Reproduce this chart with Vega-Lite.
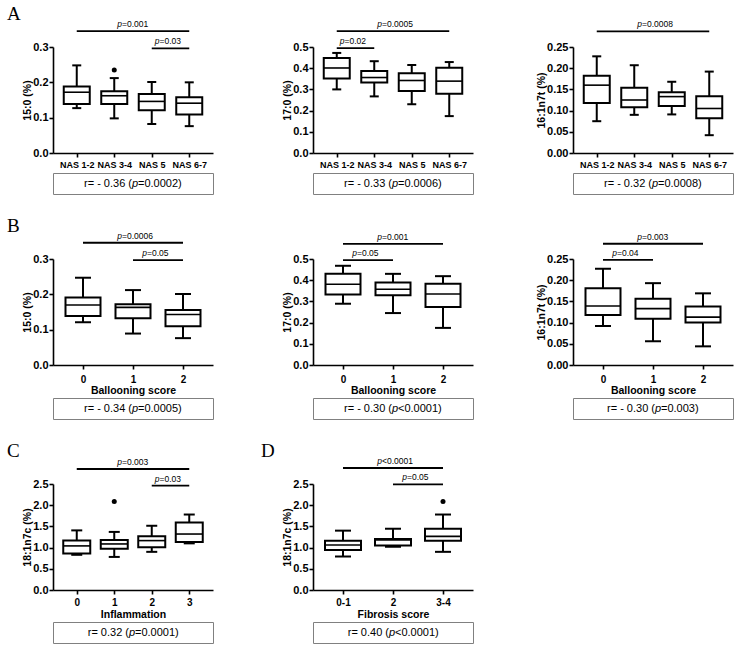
{
"$schema":"https://vega.github.io/schema/vega-lite/v6.json",
"padding":{"left":7,"top":5,"right":0,"bottom":0},
"autosize":{"type":"pad"},
"config":{
 "view":{"stroke":null},
 "font":"Liberation Sans",
 "axis":{"domainColor":"black","domainWidth":1.6,"tickColor":"black","tickWidth":1.6,"tickSize":4,"tickCount":20,"labelColor":"black","labelFont":"Liberation Sans","labelFontWeight":"bold","labelFontSize":11,"titleColor":"black","titleFont":"Liberation Sans","titleFontWeight":"bold","titleFontSize":10.5,"grid":false,"labelPadding":1,"titlePadding":0,"labelOverlap":false,"labelFlush":false,"labelBound":false},
 "title":{"font":"Liberation Serif","fontSize":19,"fontWeight":"normal","anchor":"start","frame":"group","color":"black","baseline":"alphabetic"}
},
"datasets":{
 "boxes":[
  {"panel":"A1","idx":1,"group":"NAS 1-2","min":0.127,"q1":0.139,"median":0.172,"q3":0.188,"max":0.248},
  {"panel":"A1","idx":2,"group":"NAS 3-4","min":0.098,"q1":0.139,"median":0.162,"q3":0.175,"max":0.212},
  {"panel":"A1","idx":3,"group":"NAS 5","min":0.082,"q1":0.121,"median":0.146,"q3":0.167,"max":0.201},
  {"panel":"A1","idx":4,"group":"NAS 6-7","min":0.076,"q1":0.109,"median":0.141,"q3":0.158,"max":0.200},
  {"panel":"A2","idx":1,"group":"NAS 1-2","min":0.300,"q1":0.352,"median":0.401,"q3":0.448,"max":0.472},
  {"panel":"A2","idx":2,"group":"NAS 3-4","min":0.267,"q1":0.333,"median":0.356,"q3":0.387,"max":0.433},
  {"panel":"A2","idx":3,"group":"NAS 5","min":0.230,"q1":0.293,"median":0.342,"q3":0.376,"max":0.415},
  {"panel":"A2","idx":4,"group":"NAS 6-7","min":0.174,"q1":0.280,"median":0.339,"q3":0.402,"max":0.429},
  {"panel":"A3","idx":1,"group":"NAS 1-2","min":0.075,"q1":0.118,"median":0.160,"q3":0.182,"max":0.228},
  {"panel":"A3","idx":2,"group":"NAS 3-4","min":0.090,"q1":0.108,"median":0.125,"q3":0.154,"max":0.207},
  {"panel":"A3","idx":3,"group":"NAS 5","min":0.091,"q1":0.111,"median":0.133,"q3":0.143,"max":0.168},
  {"panel":"A3","idx":4,"group":"NAS 6-7","min":0.042,"q1":0.082,"median":0.105,"q3":0.134,"max":0.192},
  {"panel":"B1","idx":1,"group":"0","min":0.121,"q1":0.139,"median":0.170,"q3":0.191,"max":0.247},
  {"panel":"B1","idx":2,"group":"1","min":0.089,"q1":0.132,"median":0.163,"q3":0.172,"max":0.212},
  {"panel":"B1","idx":3,"group":"2","min":0.076,"q1":0.110,"median":0.143,"q3":0.156,"max":0.201},
  {"panel":"B2","idx":1,"group":"0","min":0.289,"q1":0.332,"median":0.381,"q3":0.430,"max":0.468},
  {"panel":"B2","idx":2,"group":"1","min":0.245,"q1":0.329,"median":0.357,"q3":0.389,"max":0.430},
  {"panel":"B2","idx":3,"group":"2","min":0.175,"q1":0.273,"median":0.335,"q3":0.383,"max":0.419},
  {"panel":"B3","idx":1,"group":"0","min":0.092,"q1":0.118,"median":0.139,"q3":0.181,"max":0.227},
  {"panel":"B3","idx":2,"group":"1","min":0.056,"q1":0.109,"median":0.133,"q3":0.156,"max":0.193},
  {"panel":"B3","idx":3,"group":"2","min":0.044,"q1":0.100,"median":0.113,"q3":0.138,"max":0.169},
  {"panel":"C","idx":1,"group":"0","min":0.83,"q1":0.86,"median":1.04,"q3":1.165,"max":1.406},
  {"panel":"C","idx":2,"group":"1","min":0.78,"q1":0.97,"median":1.086,"q3":1.18,"max":1.37},
  {"panel":"C","idx":3,"group":"2","min":0.90,"q1":1.008,"median":1.165,"q3":1.27,"max":1.515},
  {"panel":"C","idx":4,"group":"3","min":1.10,"q1":1.13,"median":1.32,"q3":1.59,"max":1.78},
  {"panel":"D","idx":1,"group":"0-1","min":0.79,"q1":0.945,"median":1.06,"q3":1.16,"max":1.40},
  {"panel":"D","idx":2,"group":"2","min":1.02,"q1":1.05,"median":1.18,"q3":1.20,"max":1.445},
  {"panel":"D","idx":3,"group":"3-4","min":0.90,"q1":1.16,"median":1.265,"q3":1.445,"max":1.78}
 ],
 "outliers":[
  {"panel":"A1","idx":2,"value":0.235},
  {"panel":"C","idx":2,"value":2.09},
  {"panel":"D","idx":3,"value":2.09}
 ],
 "sig":[
  {"panel":"A1","from":1,"to":4,"mid":2.5,"y":0.345,"t":"=0.001"},
  {"panel":"A1","from":3,"to":4,"mid":3.5,"y":0.296,"t":"=0.03"},
  {"panel":"A2","from":1,"to":4,"mid":2.5,"y":0.575,"t":"=0.0005"},
  {"panel":"A2","from":1,"to":2,"mid":1.5,"y":0.495,"t":"=0.02"},
  {"panel":"A3","from":1,"to":4,"mid":2.5,"y":0.287,"t":"=0.0008"},
  {"panel":"B1","from":1,"to":3,"mid":2,"y":0.346,"t":"=0.0006"},
  {"panel":"B1","from":2,"to":3,"mid":2.5,"y":0.297,"t":"=0.05"},
  {"panel":"B2","from":1,"to":3,"mid":2,"y":0.571,"t":"=0.001"},
  {"panel":"B2","from":1,"to":2,"mid":1.5,"y":0.495,"t":"=0.05"},
  {"panel":"B3","from":1,"to":3,"mid":2,"y":0.286,"t":"=0.003"},
  {"panel":"B3","from":1,"to":2,"mid":1.5,"y":0.248,"t":"=0.04"},
  {"panel":"C","from":1,"to":4,"mid":2.5,"y":2.854,"t":"=0.003"},
  {"panel":"C","from":3,"to":4,"mid":3.5,"y":2.46,"t":"=0.03"},
  {"panel":"D","from":1,"to":3,"mid":2,"y":2.877,"t":"<0.0001"},
  {"panel":"D","from":2,"to":3,"mid":2.5,"y":2.49,"t":"=0.05"}
 ]
},
"vconcat":[
 {"vconcat":[
  {"hconcat":[
   {"title":{"text":"A","dx":-46,"offset":-4},"width":160,"height":106,"layer":[
    {"data":{"name":"boxes"},"transform":[{"filter":"datum.panel=='A1'"}],"mark":{"type":"rule","color":"black","strokeWidth":2},"encoding":{"x":{"field":"idx","type":"quantitative","scale":{"domain":[0.5,4.5],"nice":false,"zero":false},"axis":{"values":[1,2,3,4],"tickCount":20,"labelExpr":"['NAS 1-2','NAS 3-4','NAS 5','NAS 6-7'][datum.value-1]","title":null,"labelFontSize":9,"labelPadding":3}},"y":{"field":"min","type":"quantitative","scale":{"domain":[0,0.3],"nice":false},"axis":{"values":[0,0.1,0.2,0.3],"tickCount":20,"format":".1f","title":"15:0 (%)"}},"y2":{"field":"max"}}},
    {"data":{"name":"boxes"},"transform":[{"filter":"datum.panel=='A1'"}],"mark":{"type":"bar","fill":"white","stroke":"black","strokeWidth":2,"size":26},"encoding":{"x":{"field":"idx","type":"quantitative","scale":{"domain":[0.5,4.5],"nice":false,"zero":false}},"y":{"field":"q1","type":"quantitative","scale":{"domain":[0,0.3],"nice":false}},"y2":{"field":"q3"}}},
    {"data":{"name":"boxes"},"transform":[{"filter":"datum.panel=='A1'"}],"mark":{"type":"tick","orient":"horizontal","color":"black","opacity":1,"size":26,"thickness":1.6},"encoding":{"x":{"field":"idx","type":"quantitative","scale":{"domain":[0.5,4.5],"nice":false,"zero":false}},"y":{"field":"median","type":"quantitative","scale":{"domain":[0,0.3],"nice":false}}}},
    {"data":{"name":"boxes"},"transform":[{"filter":"datum.panel=='A1'"},{"fold":["min","max"],"as":["k","v"]}],"mark":{"type":"tick","orient":"horizontal","color":"black","opacity":1,"size":9,"thickness":2},"encoding":{"x":{"field":"idx","type":"quantitative","scale":{"domain":[0.5,4.5],"nice":false,"zero":false}},"y":{"field":"v","type":"quantitative","scale":{"domain":[0,0.3],"nice":false}}}},
    {"data":{"name":"outliers"},"transform":[{"filter":"datum.panel=='A1'"}],"mark":{"type":"point","filled":true,"color":"black","opacity":1,"size":25},"encoding":{"x":{"field":"idx","type":"quantitative","scale":{"domain":[0.5,4.5],"nice":false,"zero":false}},"y":{"field":"value","type":"quantitative","scale":{"domain":[0,0.3],"nice":false}}}},
    {"data":{"name":"sig"},"transform":[{"filter":"datum.panel=='A1'"}],"mark":{"type":"rule","color":"black","strokeWidth":1.8},"encoding":{"x":{"field":"from","type":"quantitative","scale":{"domain":[0.5,4.5],"nice":false,"zero":false}},"x2":{"field":"to"},"y":{"field":"y","type":"quantitative","scale":{"domain":[0,0.3],"nice":false}}}},
    {"data":{"name":"sig"},"transform":[{"filter":"datum.panel=='A1'"}],"mark":{"type":"text","text":"p","fontStyle":"italic","fontSize":8.5,"align":"right","baseline":"alphabetic","dx":-11,"dy":-4,"color":"black"},"encoding":{"x":{"field":"mid","type":"quantitative","scale":{"domain":[0.5,4.5],"nice":false,"zero":false}},"y":{"field":"y","type":"quantitative","scale":{"domain":[0,0.3],"nice":false}}}},
    {"data":{"name":"sig"},"transform":[{"filter":"datum.panel=='A1'"}],"mark":{"type":"text","fontSize":8.5,"align":"left","baseline":"alphabetic","dx":-11,"dy":-4,"color":"black"},"encoding":{"x":{"field":"mid","type":"quantitative","scale":{"domain":[0.5,4.5],"nice":false,"zero":false}},"y":{"field":"y","type":"quantitative","scale":{"domain":[0,0.3],"nice":false}},"text":{"field":"t"}}}
   ]},
   {"width":160,"height":106,"layer":[
    {"data":{"name":"boxes"},"transform":[{"filter":"datum.panel=='A2'"}],"mark":{"type":"rule","color":"black","strokeWidth":2},"encoding":{"x":{"field":"idx","type":"quantitative","scale":{"domain":[0.5,4.5],"nice":false,"zero":false},"axis":{"values":[1,2,3,4],"tickCount":20,"labelExpr":"['NAS 1-2','NAS 3-4','NAS 5','NAS 6-7'][datum.value-1]","title":null,"labelFontSize":9,"labelPadding":3}},"y":{"field":"min","type":"quantitative","scale":{"domain":[0,0.5],"nice":false},"axis":{"values":[0,0.1,0.2,0.3,0.4,0.5],"tickCount":20,"format":".1f","title":"17:0 (%)"}},"y2":{"field":"max"}}},
    {"data":{"name":"boxes"},"transform":[{"filter":"datum.panel=='A2'"}],"mark":{"type":"bar","fill":"white","stroke":"black","strokeWidth":2,"size":26},"encoding":{"x":{"field":"idx","type":"quantitative","scale":{"domain":[0.5,4.5],"nice":false,"zero":false}},"y":{"field":"q1","type":"quantitative","scale":{"domain":[0,0.5],"nice":false}},"y2":{"field":"q3"}}},
    {"data":{"name":"boxes"},"transform":[{"filter":"datum.panel=='A2'"}],"mark":{"type":"tick","orient":"horizontal","color":"black","opacity":1,"size":26,"thickness":1.6},"encoding":{"x":{"field":"idx","type":"quantitative","scale":{"domain":[0.5,4.5],"nice":false,"zero":false}},"y":{"field":"median","type":"quantitative","scale":{"domain":[0,0.5],"nice":false}}}},
    {"data":{"name":"boxes"},"transform":[{"filter":"datum.panel=='A2'"},{"fold":["min","max"],"as":["k","v"]}],"mark":{"type":"tick","orient":"horizontal","color":"black","opacity":1,"size":9,"thickness":2},"encoding":{"x":{"field":"idx","type":"quantitative","scale":{"domain":[0.5,4.5],"nice":false,"zero":false}},"y":{"field":"v","type":"quantitative","scale":{"domain":[0,0.5],"nice":false}}}},
    {"data":{"name":"sig"},"transform":[{"filter":"datum.panel=='A2'"}],"mark":{"type":"rule","color":"black","strokeWidth":1.8},"encoding":{"x":{"field":"from","type":"quantitative","scale":{"domain":[0.5,4.5],"nice":false,"zero":false}},"x2":{"field":"to"},"y":{"field":"y","type":"quantitative","scale":{"domain":[0,0.5],"nice":false}}}},
    {"data":{"name":"sig"},"transform":[{"filter":"datum.panel=='A2'"}],"mark":{"type":"text","text":"p","fontStyle":"italic","fontSize":8.5,"align":"right","baseline":"alphabetic","dx":-11,"dy":-4,"color":"black"},"encoding":{"x":{"field":"mid","type":"quantitative","scale":{"domain":[0.5,4.5],"nice":false,"zero":false}},"y":{"field":"y","type":"quantitative","scale":{"domain":[0,0.5],"nice":false}}}},
    {"data":{"name":"sig"},"transform":[{"filter":"datum.panel=='A2'"}],"mark":{"type":"text","fontSize":8.5,"align":"left","baseline":"alphabetic","dx":-11,"dy":-4,"color":"black"},"encoding":{"x":{"field":"mid","type":"quantitative","scale":{"domain":[0.5,4.5],"nice":false,"zero":false}},"y":{"field":"y","type":"quantitative","scale":{"domain":[0,0.5],"nice":false}},"text":{"field":"t"}}}
   ]},
   {"width":160,"height":106,"layer":[
    {"data":{"name":"boxes"},"transform":[{"filter":"datum.panel=='A3'"}],"mark":{"type":"rule","color":"black","strokeWidth":2},"encoding":{"x":{"field":"idx","type":"quantitative","scale":{"domain":[0.5,4.5],"nice":false,"zero":false},"axis":{"values":[1,2,3,4],"tickCount":20,"labelExpr":"['NAS 1-2','NAS 3-4','NAS 5','NAS 6-7'][datum.value-1]","title":null,"labelFontSize":9,"labelPadding":3}},"y":{"field":"min","type":"quantitative","scale":{"domain":[0,0.25],"nice":false},"axis":{"values":[0,0.05,0.1,0.15,0.2,0.25],"tickCount":20,"format":".2f","title":"16:1n7t (%)"}},"y2":{"field":"max"}}},
    {"data":{"name":"boxes"},"transform":[{"filter":"datum.panel=='A3'"}],"mark":{"type":"bar","fill":"white","stroke":"black","strokeWidth":2,"size":26},"encoding":{"x":{"field":"idx","type":"quantitative","scale":{"domain":[0.5,4.5],"nice":false,"zero":false}},"y":{"field":"q1","type":"quantitative","scale":{"domain":[0,0.25],"nice":false}},"y2":{"field":"q3"}}},
    {"data":{"name":"boxes"},"transform":[{"filter":"datum.panel=='A3'"}],"mark":{"type":"tick","orient":"horizontal","color":"black","opacity":1,"size":26,"thickness":1.6},"encoding":{"x":{"field":"idx","type":"quantitative","scale":{"domain":[0.5,4.5],"nice":false,"zero":false}},"y":{"field":"median","type":"quantitative","scale":{"domain":[0,0.25],"nice":false}}}},
    {"data":{"name":"boxes"},"transform":[{"filter":"datum.panel=='A3'"},{"fold":["min","max"],"as":["k","v"]}],"mark":{"type":"tick","orient":"horizontal","color":"black","opacity":1,"size":9,"thickness":2},"encoding":{"x":{"field":"idx","type":"quantitative","scale":{"domain":[0.5,4.5],"nice":false,"zero":false}},"y":{"field":"v","type":"quantitative","scale":{"domain":[0,0.25],"nice":false}}}},
    {"data":{"name":"sig"},"transform":[{"filter":"datum.panel=='A3'"}],"mark":{"type":"rule","color":"black","strokeWidth":1.8},"encoding":{"x":{"field":"from","type":"quantitative","scale":{"domain":[0.5,4.5],"nice":false,"zero":false}},"x2":{"field":"to"},"y":{"field":"y","type":"quantitative","scale":{"domain":[0,0.25],"nice":false}}}},
    {"data":{"name":"sig"},"transform":[{"filter":"datum.panel=='A3'"}],"mark":{"type":"text","text":"p","fontStyle":"italic","fontSize":8.5,"align":"right","baseline":"alphabetic","dx":-11,"dy":-4,"color":"black"},"encoding":{"x":{"field":"mid","type":"quantitative","scale":{"domain":[0.5,4.5],"nice":false,"zero":false}},"y":{"field":"y","type":"quantitative","scale":{"domain":[0,0.25],"nice":false}}}},
    {"data":{"name":"sig"},"transform":[{"filter":"datum.panel=='A3'"}],"mark":{"type":"text","fontSize":8.5,"align":"left","baseline":"alphabetic","dx":-11,"dy":-4,"color":"black"},"encoding":{"x":{"field":"mid","type":"quantitative","scale":{"domain":[0.5,4.5],"nice":false,"zero":false}},"y":{"field":"y","type":"quantitative","scale":{"domain":[0,0.25],"nice":false}},"text":{"field":"t"}}}
   ]}
  ],"spacing":100,"bounds":"flush"},
  {"hconcat":[
   {"width":160,"height":21,"view":{"stroke":"#808080","strokeWidth":1},"data":{"values":[{"a":"r= - 0.36 (","b":"=0.0002)"}]},"layer":[
    {"mark":{"type":"text","align":"right","dx":-1,"fontSize":11,"color":"black"},"encoding":{"text":{"field":"a"}}},
    {"mark":{"type":"text","align":"left","dx":-1,"fontSize":11,"fontStyle":"italic","color":"black","text":"p"},"encoding":{}},
    {"mark":{"type":"text","align":"left","dx":5,"fontSize":11,"color":"black"},"encoding":{"text":{"field":"b"}}}
   ]},
   {"width":160,"height":21,"view":{"stroke":"#808080","strokeWidth":1},"data":{"values":[{"a":"r= - 0.33 (","b":"=0.0006)"}]},"layer":[
    {"mark":{"type":"text","align":"right","dx":-1,"fontSize":11,"color":"black"},"encoding":{"text":{"field":"a"}}},
    {"mark":{"type":"text","align":"left","dx":-1,"fontSize":11,"fontStyle":"italic","color":"black","text":"p"},"encoding":{}},
    {"mark":{"type":"text","align":"left","dx":5,"fontSize":11,"color":"black"},"encoding":{"text":{"field":"b"}}}
   ]},
   {"width":160,"height":21,"view":{"stroke":"#808080","strokeWidth":1},"data":{"values":[{"a":"r= - 0.32 (","b":"=0.0008)"}]},"layer":[
    {"mark":{"type":"text","align":"right","dx":-1,"fontSize":11,"color":"black"},"encoding":{"text":{"field":"a"}}},
    {"mark":{"type":"text","align":"left","dx":-1,"fontSize":11,"fontStyle":"italic","color":"black","text":"p"},"encoding":{}},
    {"mark":{"type":"text","align":"left","dx":5,"fontSize":11,"color":"black"},"encoding":{"text":{"field":"b"}}}
   ]}
  ],"spacing":100,"bounds":"flush"}
 ],"spacing":126,"bounds":"flush"},
 {"vconcat":[
  {"hconcat":[
   {"title":{"text":"B","dx":-46,"offset":-4},"width":160,"height":106,"layer":[
    {"data":{"name":"boxes"},"transform":[{"filter":"datum.panel=='B1'"}],"mark":{"type":"rule","color":"black","strokeWidth":2},"encoding":{"x":{"field":"idx","type":"quantitative","scale":{"domain":[0.5,3.5],"nice":false,"zero":false},"axis":{"values":[1,2,3],"tickCount":20,"labelExpr":"['0','1','2'][datum.value-1]","title":"Ballooning score","labelFontSize":10,"labelPadding":5,"titlePadding":1}},"y":{"field":"min","type":"quantitative","scale":{"domain":[0,0.3],"nice":false},"axis":{"values":[0,0.1,0.2,0.3],"tickCount":20,"format":".1f","title":"15:0 (%)"}},"y2":{"field":"max"}}},
    {"data":{"name":"boxes"},"transform":[{"filter":"datum.panel=='B1'"}],"mark":{"type":"bar","fill":"white","stroke":"black","strokeWidth":2,"size":35},"encoding":{"x":{"field":"idx","type":"quantitative","scale":{"domain":[0.5,3.5],"nice":false,"zero":false}},"y":{"field":"q1","type":"quantitative","scale":{"domain":[0,0.3],"nice":false}},"y2":{"field":"q3"}}},
    {"data":{"name":"boxes"},"transform":[{"filter":"datum.panel=='B1'"}],"mark":{"type":"tick","orient":"horizontal","color":"black","opacity":1,"size":35,"thickness":1.6},"encoding":{"x":{"field":"idx","type":"quantitative","scale":{"domain":[0.5,3.5],"nice":false,"zero":false}},"y":{"field":"median","type":"quantitative","scale":{"domain":[0,0.3],"nice":false}}}},
    {"data":{"name":"boxes"},"transform":[{"filter":"datum.panel=='B1'"},{"fold":["min","max"],"as":["k","v"]}],"mark":{"type":"tick","orient":"horizontal","color":"black","opacity":1,"size":16,"thickness":2},"encoding":{"x":{"field":"idx","type":"quantitative","scale":{"domain":[0.5,3.5],"nice":false,"zero":false}},"y":{"field":"v","type":"quantitative","scale":{"domain":[0,0.3],"nice":false}}}},
    {"data":{"name":"sig"},"transform":[{"filter":"datum.panel=='B1'"}],"mark":{"type":"rule","color":"black","strokeWidth":1.8},"encoding":{"x":{"field":"from","type":"quantitative","scale":{"domain":[0.5,3.5],"nice":false,"zero":false}},"x2":{"field":"to"},"y":{"field":"y","type":"quantitative","scale":{"domain":[0,0.3],"nice":false}}}},
    {"data":{"name":"sig"},"transform":[{"filter":"datum.panel=='B1'"}],"mark":{"type":"text","text":"p","fontStyle":"italic","fontSize":8.5,"align":"right","baseline":"alphabetic","dx":-11,"dy":-4,"color":"black"},"encoding":{"x":{"field":"mid","type":"quantitative","scale":{"domain":[0.5,3.5],"nice":false,"zero":false}},"y":{"field":"y","type":"quantitative","scale":{"domain":[0,0.3],"nice":false}}}},
    {"data":{"name":"sig"},"transform":[{"filter":"datum.panel=='B1'"}],"mark":{"type":"text","fontSize":8.5,"align":"left","baseline":"alphabetic","dx":-11,"dy":-4,"color":"black"},"encoding":{"x":{"field":"mid","type":"quantitative","scale":{"domain":[0.5,3.5],"nice":false,"zero":false}},"y":{"field":"y","type":"quantitative","scale":{"domain":[0,0.3],"nice":false}},"text":{"field":"t"}}}
   ]},
   {"width":160,"height":106,"layer":[
    {"data":{"name":"boxes"},"transform":[{"filter":"datum.panel=='B2'"}],"mark":{"type":"rule","color":"black","strokeWidth":2},"encoding":{"x":{"field":"idx","type":"quantitative","scale":{"domain":[0.5,3.5],"nice":false,"zero":false},"axis":{"values":[1,2,3],"tickCount":20,"labelExpr":"['0','1','2'][datum.value-1]","title":"Ballooning score","labelFontSize":10,"labelPadding":5,"titlePadding":1}},"y":{"field":"min","type":"quantitative","scale":{"domain":[0,0.5],"nice":false},"axis":{"values":[0,0.1,0.2,0.3,0.4,0.5],"tickCount":20,"format":".1f","title":"17:0 (%)"}},"y2":{"field":"max"}}},
    {"data":{"name":"boxes"},"transform":[{"filter":"datum.panel=='B2'"}],"mark":{"type":"bar","fill":"white","stroke":"black","strokeWidth":2,"size":35},"encoding":{"x":{"field":"idx","type":"quantitative","scale":{"domain":[0.5,3.5],"nice":false,"zero":false}},"y":{"field":"q1","type":"quantitative","scale":{"domain":[0,0.5],"nice":false}},"y2":{"field":"q3"}}},
    {"data":{"name":"boxes"},"transform":[{"filter":"datum.panel=='B2'"}],"mark":{"type":"tick","orient":"horizontal","color":"black","opacity":1,"size":35,"thickness":1.6},"encoding":{"x":{"field":"idx","type":"quantitative","scale":{"domain":[0.5,3.5],"nice":false,"zero":false}},"y":{"field":"median","type":"quantitative","scale":{"domain":[0,0.5],"nice":false}}}},
    {"data":{"name":"boxes"},"transform":[{"filter":"datum.panel=='B2'"},{"fold":["min","max"],"as":["k","v"]}],"mark":{"type":"tick","orient":"horizontal","color":"black","opacity":1,"size":16,"thickness":2},"encoding":{"x":{"field":"idx","type":"quantitative","scale":{"domain":[0.5,3.5],"nice":false,"zero":false}},"y":{"field":"v","type":"quantitative","scale":{"domain":[0,0.5],"nice":false}}}},
    {"data":{"name":"sig"},"transform":[{"filter":"datum.panel=='B2'"}],"mark":{"type":"rule","color":"black","strokeWidth":1.8},"encoding":{"x":{"field":"from","type":"quantitative","scale":{"domain":[0.5,3.5],"nice":false,"zero":false}},"x2":{"field":"to"},"y":{"field":"y","type":"quantitative","scale":{"domain":[0,0.5],"nice":false}}}},
    {"data":{"name":"sig"},"transform":[{"filter":"datum.panel=='B2'"}],"mark":{"type":"text","text":"p","fontStyle":"italic","fontSize":8.5,"align":"right","baseline":"alphabetic","dx":-11,"dy":-4,"color":"black"},"encoding":{"x":{"field":"mid","type":"quantitative","scale":{"domain":[0.5,3.5],"nice":false,"zero":false}},"y":{"field":"y","type":"quantitative","scale":{"domain":[0,0.5],"nice":false}}}},
    {"data":{"name":"sig"},"transform":[{"filter":"datum.panel=='B2'"}],"mark":{"type":"text","fontSize":8.5,"align":"left","baseline":"alphabetic","dx":-11,"dy":-4,"color":"black"},"encoding":{"x":{"field":"mid","type":"quantitative","scale":{"domain":[0.5,3.5],"nice":false,"zero":false}},"y":{"field":"y","type":"quantitative","scale":{"domain":[0,0.5],"nice":false}},"text":{"field":"t"}}}
   ]},
   {"width":160,"height":106,"layer":[
    {"data":{"name":"boxes"},"transform":[{"filter":"datum.panel=='B3'"}],"mark":{"type":"rule","color":"black","strokeWidth":2},"encoding":{"x":{"field":"idx","type":"quantitative","scale":{"domain":[0.5,3.5],"nice":false,"zero":false},"axis":{"values":[1,2,3],"tickCount":20,"labelExpr":"['0','1','2'][datum.value-1]","title":"Ballooning score","labelFontSize":10,"labelPadding":5,"titlePadding":1}},"y":{"field":"min","type":"quantitative","scale":{"domain":[0,0.25],"nice":false},"axis":{"values":[0,0.05,0.1,0.15,0.2,0.25],"tickCount":20,"format":".2f","title":"16:1n7t (%)"}},"y2":{"field":"max"}}},
    {"data":{"name":"boxes"},"transform":[{"filter":"datum.panel=='B3'"}],"mark":{"type":"bar","fill":"white","stroke":"black","strokeWidth":2,"size":35},"encoding":{"x":{"field":"idx","type":"quantitative","scale":{"domain":[0.5,3.5],"nice":false,"zero":false}},"y":{"field":"q1","type":"quantitative","scale":{"domain":[0,0.25],"nice":false}},"y2":{"field":"q3"}}},
    {"data":{"name":"boxes"},"transform":[{"filter":"datum.panel=='B3'"}],"mark":{"type":"tick","orient":"horizontal","color":"black","opacity":1,"size":35,"thickness":1.6},"encoding":{"x":{"field":"idx","type":"quantitative","scale":{"domain":[0.5,3.5],"nice":false,"zero":false}},"y":{"field":"median","type":"quantitative","scale":{"domain":[0,0.25],"nice":false}}}},
    {"data":{"name":"boxes"},"transform":[{"filter":"datum.panel=='B3'"},{"fold":["min","max"],"as":["k","v"]}],"mark":{"type":"tick","orient":"horizontal","color":"black","opacity":1,"size":16,"thickness":2},"encoding":{"x":{"field":"idx","type":"quantitative","scale":{"domain":[0.5,3.5],"nice":false,"zero":false}},"y":{"field":"v","type":"quantitative","scale":{"domain":[0,0.25],"nice":false}}}},
    {"data":{"name":"sig"},"transform":[{"filter":"datum.panel=='B3'"}],"mark":{"type":"rule","color":"black","strokeWidth":1.8},"encoding":{"x":{"field":"from","type":"quantitative","scale":{"domain":[0.5,3.5],"nice":false,"zero":false}},"x2":{"field":"to"},"y":{"field":"y","type":"quantitative","scale":{"domain":[0,0.25],"nice":false}}}},
    {"data":{"name":"sig"},"transform":[{"filter":"datum.panel=='B3'"}],"mark":{"type":"text","text":"p","fontStyle":"italic","fontSize":8.5,"align":"right","baseline":"alphabetic","dx":-11,"dy":-4,"color":"black"},"encoding":{"x":{"field":"mid","type":"quantitative","scale":{"domain":[0.5,3.5],"nice":false,"zero":false}},"y":{"field":"y","type":"quantitative","scale":{"domain":[0,0.25],"nice":false}}}},
    {"data":{"name":"sig"},"transform":[{"filter":"datum.panel=='B3'"}],"mark":{"type":"text","fontSize":8.5,"align":"left","baseline":"alphabetic","dx":-11,"dy":-4,"color":"black"},"encoding":{"x":{"field":"mid","type":"quantitative","scale":{"domain":[0.5,3.5],"nice":false,"zero":false}},"y":{"field":"y","type":"quantitative","scale":{"domain":[0,0.25],"nice":false}},"text":{"field":"t"}}}
   ]}
  ],"spacing":100,"bounds":"flush"},
  {"hconcat":[
   {"width":160,"height":21,"view":{"stroke":"#808080","strokeWidth":1},"data":{"values":[{"a":"r= - 0.34 (","b":"=0.0005)"}]},"layer":[
    {"mark":{"type":"text","align":"right","dx":-1,"fontSize":11,"color":"black"},"encoding":{"text":{"field":"a"}}},
    {"mark":{"type":"text","align":"left","dx":-1,"fontSize":11,"fontStyle":"italic","color":"black","text":"p"},"encoding":{}},
    {"mark":{"type":"text","align":"left","dx":5,"fontSize":11,"color":"black"},"encoding":{"text":{"field":"b"}}}
   ]},
   {"width":160,"height":21,"view":{"stroke":"#808080","strokeWidth":1},"data":{"values":[{"a":"r= - 0.30 (","b":"<0.0001)"}]},"layer":[
    {"mark":{"type":"text","align":"right","dx":-1,"fontSize":11,"color":"black"},"encoding":{"text":{"field":"a"}}},
    {"mark":{"type":"text","align":"left","dx":-1,"fontSize":11,"fontStyle":"italic","color":"black","text":"p"},"encoding":{}},
    {"mark":{"type":"text","align":"left","dx":5,"fontSize":11,"color":"black"},"encoding":{"text":{"field":"b"}}}
   ]},
   {"width":160,"height":21,"view":{"stroke":"#808080","strokeWidth":1},"data":{"values":[{"a":"r= - 0.30 (","b":"=0.003)"}]},"layer":[
    {"mark":{"type":"text","align":"right","dx":2,"fontSize":11,"color":"black"},"encoding":{"text":{"field":"a"}}},
    {"mark":{"type":"text","align":"left","dx":2,"fontSize":11,"fontStyle":"italic","color":"black","text":"p"},"encoding":{}},
    {"mark":{"type":"text","align":"left","dx":8,"fontSize":11,"color":"black"},"encoding":{"text":{"field":"b"}}}
   ]}
  ],"spacing":100,"bounds":"flush"}
 ],"spacing":139,"bounds":"flush"},
 {"vconcat":[
  {"hconcat":[
   {"title":{"text":"C","dx":-46,"offset":-3},"width":160,"height":106,"layer":[
    {"data":{"name":"boxes"},"transform":[{"filter":"datum.panel=='C'"}],"mark":{"type":"rule","color":"black","strokeWidth":2},"encoding":{"x":{"field":"idx","type":"quantitative","scale":{"domain":[0.5,4.5],"nice":false,"zero":false},"axis":{"values":[1,2,3,4],"tickCount":20,"labelExpr":"['0','1','2','3'][datum.value-1]","title":"Inflammation","labelFontSize":10,"labelPadding":3,"titlePadding":2}},"y":{"field":"min","type":"quantitative","scale":{"domain":[0,2.5],"nice":false},"axis":{"values":[0,0.5,1,1.5,2,2.5],"tickCount":20,"format":".1f","title":"18:1n7c (%)"}},"y2":{"field":"max"}}},
    {"data":{"name":"boxes"},"transform":[{"filter":"datum.panel=='C'"}],"mark":{"type":"bar","fill":"white","stroke":"black","strokeWidth":2,"size":27},"encoding":{"x":{"field":"idx","type":"quantitative","scale":{"domain":[0.5,4.5],"nice":false,"zero":false}},"y":{"field":"q1","type":"quantitative","scale":{"domain":[0,2.5],"nice":false}},"y2":{"field":"q3"}}},
    {"data":{"name":"boxes"},"transform":[{"filter":"datum.panel=='C'"}],"mark":{"type":"tick","orient":"horizontal","color":"black","opacity":1,"size":27,"thickness":1.6},"encoding":{"x":{"field":"idx","type":"quantitative","scale":{"domain":[0.5,4.5],"nice":false,"zero":false}},"y":{"field":"median","type":"quantitative","scale":{"domain":[0,2.5],"nice":false}}}},
    {"data":{"name":"boxes"},"transform":[{"filter":"datum.panel=='C'"},{"fold":["min","max"],"as":["k","v"]}],"mark":{"type":"tick","orient":"horizontal","color":"black","opacity":1,"size":11,"thickness":2},"encoding":{"x":{"field":"idx","type":"quantitative","scale":{"domain":[0.5,4.5],"nice":false,"zero":false}},"y":{"field":"v","type":"quantitative","scale":{"domain":[0,2.5],"nice":false}}}},
    {"data":{"name":"outliers"},"transform":[{"filter":"datum.panel=='C'"}],"mark":{"type":"point","filled":true,"color":"black","opacity":1,"size":25},"encoding":{"x":{"field":"idx","type":"quantitative","scale":{"domain":[0.5,4.5],"nice":false,"zero":false}},"y":{"field":"value","type":"quantitative","scale":{"domain":[0,2.5],"nice":false}}}},
    {"data":{"name":"sig"},"transform":[{"filter":"datum.panel=='C'"}],"mark":{"type":"rule","color":"black","strokeWidth":1.8},"encoding":{"x":{"field":"from","type":"quantitative","scale":{"domain":[0.5,4.5],"nice":false,"zero":false}},"x2":{"field":"to"},"y":{"field":"y","type":"quantitative","scale":{"domain":[0,2.5],"nice":false}}}},
    {"data":{"name":"sig"},"transform":[{"filter":"datum.panel=='C'"}],"mark":{"type":"text","text":"p","fontStyle":"italic","fontSize":8.5,"align":"right","baseline":"alphabetic","dx":-11,"dy":-4,"color":"black"},"encoding":{"x":{"field":"mid","type":"quantitative","scale":{"domain":[0.5,4.5],"nice":false,"zero":false}},"y":{"field":"y","type":"quantitative","scale":{"domain":[0,2.5],"nice":false}}}},
    {"data":{"name":"sig"},"transform":[{"filter":"datum.panel=='C'"}],"mark":{"type":"text","fontSize":8.5,"align":"left","baseline":"alphabetic","dx":-11,"dy":-4,"color":"black"},"encoding":{"x":{"field":"mid","type":"quantitative","scale":{"domain":[0.5,4.5],"nice":false,"zero":false}},"y":{"field":"y","type":"quantitative","scale":{"domain":[0,2.5],"nice":false}},"text":{"field":"t"}}}
   ]},
   {"title":{"text":"D","dx":-52,"offset":-4},"width":160,"height":106,"layer":[
    {"data":{"name":"boxes"},"transform":[{"filter":"datum.panel=='D'"}],"mark":{"type":"rule","color":"black","strokeWidth":2},"encoding":{"x":{"field":"idx","type":"quantitative","scale":{"domain":[0.5,3.5],"nice":false,"zero":false},"axis":{"values":[1,2,3],"tickCount":20,"labelExpr":"['0-1','2','3-4'][datum.value-1]","title":"Fibrosis score","labelFontSize":10,"labelPadding":3,"titlePadding":2}},"y":{"field":"min","type":"quantitative","scale":{"domain":[0,2.5],"nice":false},"axis":{"values":[0,0.5,1,1.5,2,2.5],"tickCount":20,"format":".1f","title":"18:1n7c (%)"}},"y2":{"field":"max"}}},
    {"data":{"name":"boxes"},"transform":[{"filter":"datum.panel=='D'"}],"mark":{"type":"bar","fill":"white","stroke":"black","strokeWidth":2,"size":36},"encoding":{"x":{"field":"idx","type":"quantitative","scale":{"domain":[0.5,3.5],"nice":false,"zero":false}},"y":{"field":"q1","type":"quantitative","scale":{"domain":[0,2.5],"nice":false}},"y2":{"field":"q3"}}},
    {"data":{"name":"boxes"},"transform":[{"filter":"datum.panel=='D'"}],"mark":{"type":"tick","orient":"horizontal","color":"black","opacity":1,"size":36,"thickness":1.6},"encoding":{"x":{"field":"idx","type":"quantitative","scale":{"domain":[0.5,3.5],"nice":false,"zero":false}},"y":{"field":"median","type":"quantitative","scale":{"domain":[0,2.5],"nice":false}}}},
    {"data":{"name":"boxes"},"transform":[{"filter":"datum.panel=='D'"},{"fold":["min","max"],"as":["k","v"]}],"mark":{"type":"tick","orient":"horizontal","color":"black","opacity":1,"size":16,"thickness":2},"encoding":{"x":{"field":"idx","type":"quantitative","scale":{"domain":[0.5,3.5],"nice":false,"zero":false}},"y":{"field":"v","type":"quantitative","scale":{"domain":[0,2.5],"nice":false}}}},
    {"data":{"name":"outliers"},"transform":[{"filter":"datum.panel=='D'"}],"mark":{"type":"point","filled":true,"color":"black","opacity":1,"size":25},"encoding":{"x":{"field":"idx","type":"quantitative","scale":{"domain":[0.5,3.5],"nice":false,"zero":false}},"y":{"field":"value","type":"quantitative","scale":{"domain":[0,2.5],"nice":false}}}},
    {"data":{"name":"sig"},"transform":[{"filter":"datum.panel=='D'"}],"mark":{"type":"rule","color":"black","strokeWidth":1.8},"encoding":{"x":{"field":"from","type":"quantitative","scale":{"domain":[0.5,3.5],"nice":false,"zero":false}},"x2":{"field":"to"},"y":{"field":"y","type":"quantitative","scale":{"domain":[0,2.5],"nice":false}}}},
    {"data":{"name":"sig"},"transform":[{"filter":"datum.panel=='D'"}],"mark":{"type":"text","text":"p","fontStyle":"italic","fontSize":8.5,"align":"right","baseline":"alphabetic","dx":-11,"dy":-4,"color":"black"},"encoding":{"x":{"field":"mid","type":"quantitative","scale":{"domain":[0.5,3.5],"nice":false,"zero":false}},"y":{"field":"y","type":"quantitative","scale":{"domain":[0,2.5],"nice":false}}}},
    {"data":{"name":"sig"},"transform":[{"filter":"datum.panel=='D'"}],"mark":{"type":"text","fontSize":8.5,"align":"left","baseline":"alphabetic","dx":-11,"dy":-4,"color":"black"},"encoding":{"x":{"field":"mid","type":"quantitative","scale":{"domain":[0.5,3.5],"nice":false,"zero":false}},"y":{"field":"y","type":"quantitative","scale":{"domain":[0,2.5],"nice":false}},"text":{"field":"t"}}}
   ]}
  ],"spacing":100,"bounds":"flush"},
  {"hconcat":[
   {"width":160,"height":21,"view":{"stroke":"#808080","strokeWidth":1},"data":{"values":[{"a":"r= 0.32 (","b":"=0.0001)"}]},"layer":[
    {"mark":{"type":"text","align":"right","dx":-4,"fontSize":11,"color":"black"},"encoding":{"text":{"field":"a"}}},
    {"mark":{"type":"text","align":"left","dx":-4,"fontSize":11,"fontStyle":"italic","color":"black","text":"p"},"encoding":{}},
    {"mark":{"type":"text","align":"left","dx":2,"fontSize":11,"color":"black"},"encoding":{"text":{"field":"b"}}}
   ]},
   {"width":160,"height":21,"view":{"stroke":"#808080","strokeWidth":1},"data":{"values":[{"a":"r= 0.40 (","b":"<0.0001)"}]},"layer":[
    {"mark":{"type":"text","align":"right","dx":-4,"fontSize":11,"color":"black"},"encoding":{"text":{"field":"a"}}},
    {"mark":{"type":"text","align":"left","dx":-4,"fontSize":11,"fontStyle":"italic","color":"black","text":"p"},"encoding":{}},
    {"mark":{"type":"text","align":"left","dx":2,"fontSize":11,"color":"black"},"encoding":{"text":{"field":"b"}}}
   ]}
  ],"spacing":100,"bounds":"flush"}
 ],"spacing":138,"bounds":"flush"}
],
"spacing":21
}
